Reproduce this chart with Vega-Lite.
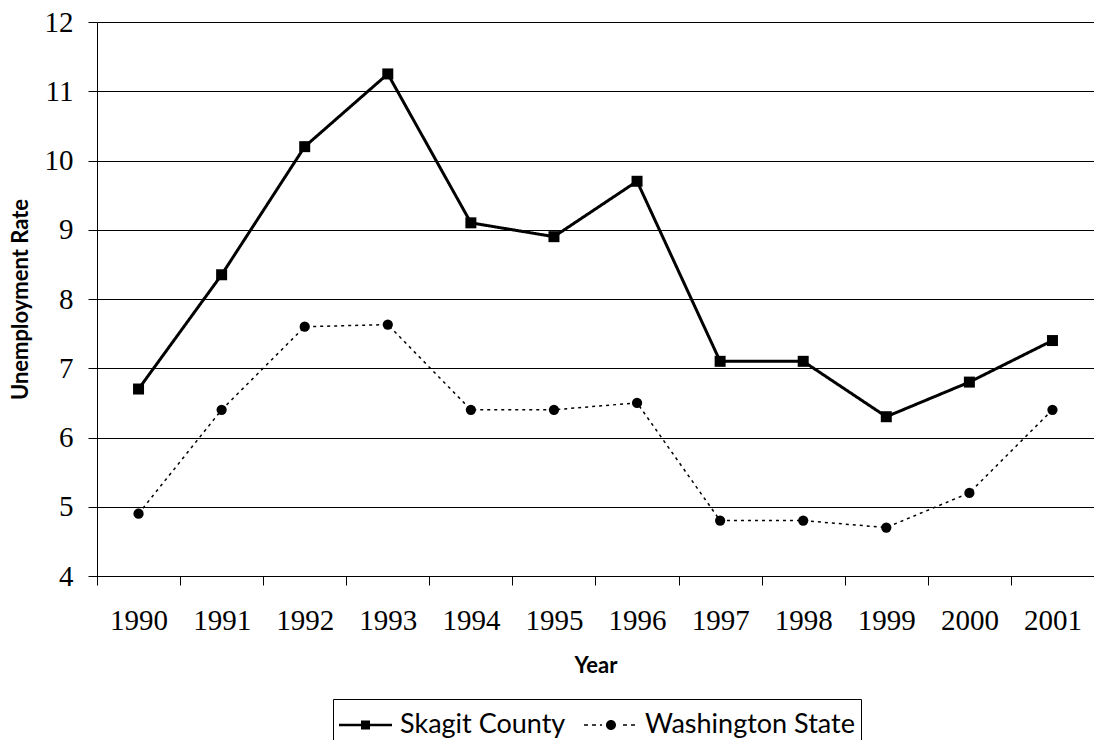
{
  "$schema": "https://vega.github.io/schema/vega-lite/v6.json",
  "width": 997,
  "height": 554,
  "autosize": {"type": "none"},
  "padding": {"left": 97, "top": 22, "right": 0, "bottom": 164},
  "background": "white",
  "config": {
    "view": {"stroke": null},
    "axis": {
      "domainColor": "black",
      "tickColor": "black",
      "labelColor": "black",
      "titleColor": "black",
      "labelFont": "Liberation Serif",
      "labelFontSize": 29,
      "titleFont": "Lato",
      "titleFontSize": 22,
      "titleFontWeight": "bold",
      "tickSize": 9,
      "labelFlush": false,
      "labelOverlap": false
    }
  },
  "data": {
    "values": [
      {"year": "1990", "series": "Skagit County", "rate": 6.7},
      {"year": "1991", "series": "Skagit County", "rate": 8.35},
      {"year": "1992", "series": "Skagit County", "rate": 10.2},
      {"year": "1993", "series": "Skagit County", "rate": 11.25},
      {"year": "1994", "series": "Skagit County", "rate": 9.1},
      {"year": "1995", "series": "Skagit County", "rate": 8.9},
      {"year": "1996", "series": "Skagit County", "rate": 9.7},
      {"year": "1997", "series": "Skagit County", "rate": 7.1},
      {"year": "1998", "series": "Skagit County", "rate": 7.1},
      {"year": "1999", "series": "Skagit County", "rate": 6.3},
      {"year": "2000", "series": "Skagit County", "rate": 6.8},
      {"year": "2001", "series": "Skagit County", "rate": 7.4},
      {"year": "1990", "series": "Washington State", "rate": 4.9},
      {"year": "1991", "series": "Washington State", "rate": 6.4},
      {"year": "1992", "series": "Washington State", "rate": 7.6},
      {"year": "1993", "series": "Washington State", "rate": 7.63},
      {"year": "1994", "series": "Washington State", "rate": 6.4},
      {"year": "1995", "series": "Washington State", "rate": 6.4},
      {"year": "1996", "series": "Washington State", "rate": 6.5},
      {"year": "1997", "series": "Washington State", "rate": 4.8},
      {"year": "1998", "series": "Washington State", "rate": 4.8},
      {"year": "1999", "series": "Washington State", "rate": 4.7},
      {"year": "2000", "series": "Washington State", "rate": 5.2},
      {"year": "2001", "series": "Washington State", "rate": 6.4}
    ]
  },
  "encoding": {
    "x": {
      "field": "year",
      "type": "ordinal",
      "scale": {"type": "band", "paddingInner": 0, "paddingOuter": 0},
      "axis": {
        "title": "Year",
        "labelAngle": 0,
        "labelPadding": 21,
        "titlePadding": 20,
        "tickBand": "extent",
        "grid": false
      }
    },
    "y": {
      "field": "rate",
      "type": "quantitative",
      "scale": {"domain": [4, 12], "nice": false, "zero": false},
      "axis": {
        "title": "Unemployment Rate",
        "values": [4, 5, 6, 7, 8, 9, 10, 11, 12],
        "grid": true,
        "gridColor": "black",
        "gridWidth": 1,
        "gridOpacity": 1,
        "labelPadding": 15,
        "titlePadding": 12
      }
    }
  },
  "layer": [
    {
      "mark": {"type": "line", "color": "black"},
      "encoding": {
        "strokeDash": {
          "field": "series",
          "type": "nominal",
          "scale": {"domain": ["Skagit County", "Washington State"], "range": [[1, 0], [3, 4]]},
          "legend": null
        },
        "strokeWidth": {
          "field": "series",
          "type": "ordinal",
          "scale": {"domain": ["Skagit County", "Washington State"], "range": [3, 1.5]},
          "legend": null
        }
      }
    },
    {
      "transform": [{"filter": "datum.series == 'Skagit County'"}],
      "mark": {"type": "point", "filled": true, "color": "black", "opacity": 1, "strokeWidth": 0, "shape": "square", "size": 121}
    },
    {
      "transform": [{"filter": "datum.series == 'Washington State'"}],
      "mark": {"type": "point", "filled": true, "color": "black", "opacity": 1, "strokeWidth": 0, "shape": "circle", "size": 105}
    },
    {
      "transform": [{"filter": "datum.rate < 0"}],
      "mark": {"type": "point", "filled": true, "color": "black", "opacity": 1, "size": 1600},
      "encoding": {
        "shape": {
          "field": "series",
          "type": "nominal",
          "scale": {
            "domain": ["Skagit County", "Washington State"],
            "range": [
              "M-1,-0.06H1.65V0.06H-1Z M0.1,-0.225H0.55V0.225H0.1Z",
              "M-1,-0.035H-0.8V0.035H-1Z M-0.6,-0.035H-0.4V0.035H-0.6Z M-0.2,-0.035H-0.1V0.035H-0.2Z M0.6,0A0.25,0.25,0,1,1,0.1,0A0.25,0.25,0,1,1,0.6,0Z M0.95,-0.035H1.15V0.035H0.95Z M1.35,-0.035H1.55V0.035H1.35Z"
            ]
          },
          "legend": {
            "orient": "none",
            "legendX": 236,
            "legendY": 677,
            "direction": "horizontal",
            "title": null,
            "labelFont": "Lato",
            "labelFontSize": 27,
            "labelColor": "black",
            "labelOffset": 21,
            "labelLimit": 0,
            "columnPadding": 18,
            "padding": 6,
            "strokeColor": "black",
            "symbolSize": 1600,
            "symbolFillColor": "black",
            "symbolStrokeWidth": 0,
            "symbolOpacity": 1
          }
        }
      }
    }
  ],
  "resolve": {
    "scale": {"shape": "independent"}
  }
}
